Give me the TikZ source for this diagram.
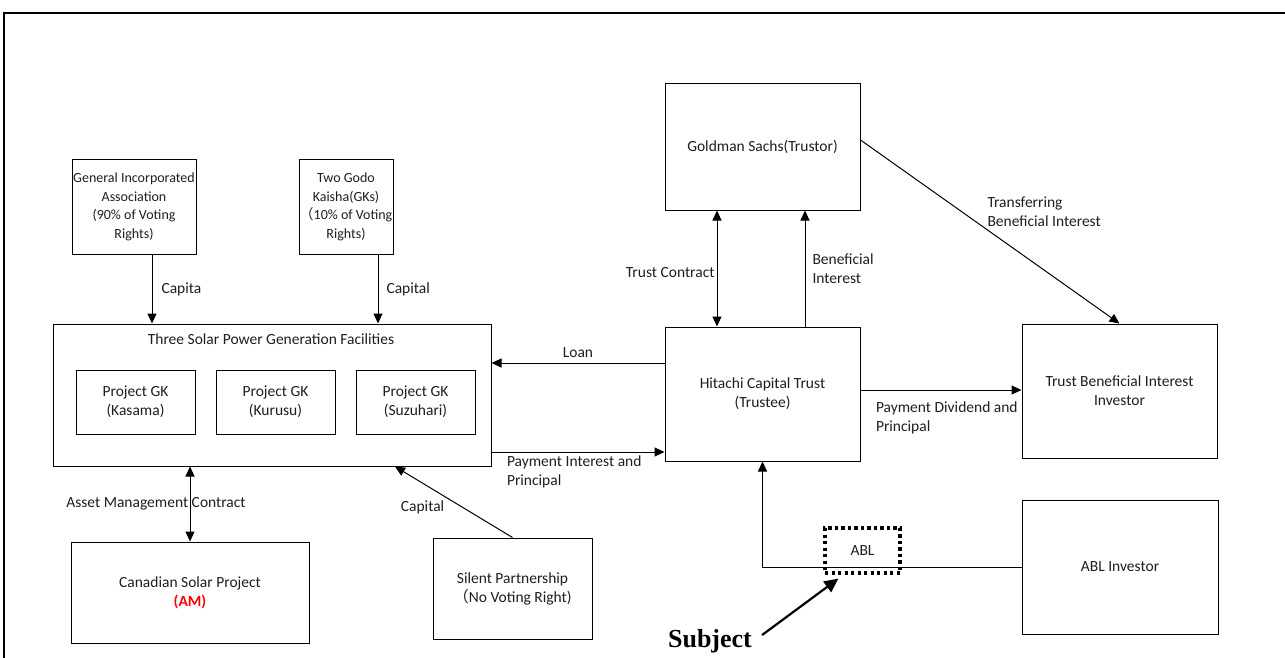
\documentclass[tikz,border=0pt]{standalone}
\usepackage{fontspec}
\setmainfont{Carlito}
\newfontfamily\cjk{Noto Sans CJK SC}
\newfontfamily\subjfont{Liberation Serif}
\usetikzlibrary{arrows.meta}
\newcommand\dtxt{\fontsize{15.5}{19}\selectfont}
\newcommand\stxt{\fontsize{14}{18.5}\selectfont}
\definecolor{amred}{RGB}{255,0,0}
\definecolor{txtc}{RGB}{30,30,30}
\begin{document}
\begin{tikzpicture}[x=1pt,y=-1pt,
  box/.style={draw, line width=1pt, align=center, font=\dtxt, text=txtc, inner sep=0pt},
  lbl/.style={font=\dtxt, text=txtc, align=left, inner sep=1pt},
  arr/.style={line width=1pt, -{Triangle[length=10pt,width=9pt]}},
  darr/.style={line width=1pt, {Triangle[length=10pt,width=9pt]}-{Triangle[length=10pt,width=9pt]}},
  dotbox/.style={draw, line width=3.2pt, dash pattern=on 3.2pt off 3.3pt, font=\dtxt, text=txtc, inner sep=0pt},
]
\useasboundingbox (0,0) rectangle (1285,658);
\draw[line width=2pt] (4,660) -- (4,13) -- (1287,13);

% boxes
\node[box, font=\stxt, minimum width=124, minimum height=94] (gia) at (134,207)
  {General Incorporated\\Association\\(90\% of Voting\\Rights)};
\node[box, font=\stxt, minimum width=94, minimum height=94] (tgk) at (346,207)
  {Two Godo\\Kaisha(GKs)\\{\cjk （}10\% of Voting\\Rights)};
\node[box, minimum width=438, minimum height=142] (tsp) at (272,395) {};
\node[font=\dtxt, text=txtc, inner sep=0pt] (tspt) at (271,339) {Three Solar Power Generation Facilities};
\node[box, minimum width=119, minimum height=64] (pk1) at (135.5,402) {Project GK\\(Kasama)};
\node[box, minimum width=119, minimum height=64] (pk2) at (275.5,402) {Project GK\\(Kurusu)};
\node[box, minimum width=119, minimum height=64] (pk3) at (415.5,402) {Project GK\\(Suzuhari)};
\node[box, minimum width=195, minimum height=126] (gs) at (762.5,147) {Goldman Sachs(Trustor)};
\node[box, minimum width=195, minimum height=134] (hct) at (762.5,394) {Hitachi Capital Trust\\(Trustee)};
\node[box, minimum width=195, minimum height=134] (tbi) at (1119.5,391) {Trust Beneficial Interest\\Investor};
\node[box, minimum width=196, minimum height=134] (abli) at (1120,567) {ABL Investor};
\node[box, minimum width=238, minimum height=101] (cs) at (190,592.5)
  {Canadian Solar Project\\{\color{amred}\bfseries (AM)}};
\node[box, minimum width=159, minimum height=101] (sp) at (512.5,588.5)
  {Silent Partnership\\{\cjk （}No Voting Right)};

% connectors
\draw[arr] ([xshift=18]gia.south) -- node[lbl, anchor=west, xshift=8] {Capita} ([xshift=18]gia.south |- tsp.north);
\draw[arr] ([xshift=32]tgk.south) -- node[lbl, anchor=west, xshift=7] {Capital} ([xshift=32]tgk.south |- tsp.north);
\draw[arr] ([yshift=31]hct.west) -- node[lbl, anchor=south, yshift=4] {Loan} ([yshift=31]hct.west -| tsp.east);
\draw[arr] ([yshift=-57]tsp.east) -- node[lbl, pos=0, anchor=north west, xshift=14, yshift=-2] {Payment Interest and\\Principal} ([yshift=-57]tsp.east -| hct.west);
\draw[arr] ([yshift=4]hct.east) -- node[lbl, pos=0, anchor=north west, xshift=14, yshift=-10] {Payment Dividend and\\Principal} ([yshift=4]hct.east -| tbi.west);
\draw[darr] ([xshift=-45.5]gs.south) -- node[lbl, anchor=east, xshift=-1, yshift=-4] {Trust Contract} ([xshift=-45.5]gs.south |- hct.north);
\draw[arr] ([xshift=42.5]hct.north) -- node[lbl, anchor=west, xshift=6] {Beneficial\\Interest} ([xshift=42.5]hct.north |- gs.south);
\draw[arr] ([yshift=7]gs.east) -- node[lbl, anchor=south west, xshift=-4, yshift=4] {Transferring\\Beneficial Interest} (tbi.north);
\draw[arr] (abli.west) -- (hct.south |- abli.west) -- (hct.south);
\draw[darr] (cs.north) -- node[lbl, xshift=-34] {Asset Management Contract} (cs.north |- tsp.south);
\draw[arr] (sp.north) -- node[lbl, anchor=east, xshift=-8, yshift=-5] {Capital} ([xshift=123]tsp.south);

\node[dotbox, minimum width=75, minimum height=45] (abl) at (862.5,550.5) {ABL};
\node[font=\subjfont\bfseries\fontsize{26}{30}\selectfont, inner sep=0pt] (subj) at (710,641) {Subject};
\draw[line width=2.2pt, -{Triangle[length=14pt,width=13pt]}] ([xshift=10,yshift=-6]subj.north east) -- ([xshift=15,yshift=-4]abl.south west);
\end{tikzpicture}
\end{document}
